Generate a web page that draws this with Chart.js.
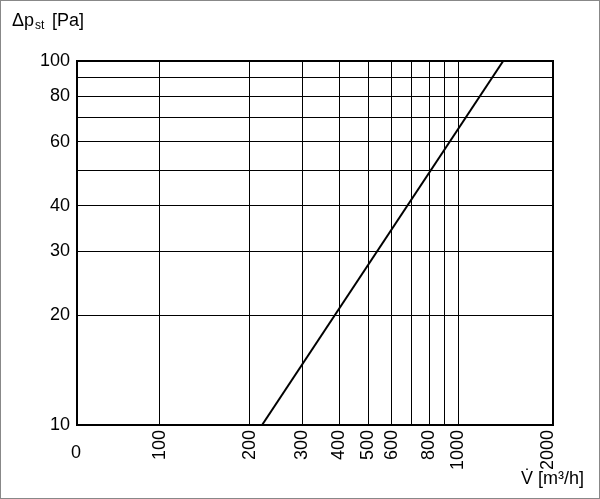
<!DOCTYPE html><html><head><meta charset="utf-8">
<script src="https://cdn.jsdelivr.net/npm/chart.js@4"></script>
<style>html,body{margin:0;padding:0;background:#fff}#w{width:600px;height:499px}</style></head><body>
<div id="w"><canvas id="c"></canvas></div>
<script>
const xTicks=[100,200,300,400,500,600,700,800,900,1000,2000];
const xLabeled=[100,200,300,400,500,600,800,1000,2000];
const yTicks=[10,20,30,40,50,60,70,80,90,100];
const yLabeled=[10,20,30,40,60,80,100];
const flowV=[220,1416];
const pressure=[10,100];
const X_MIN=52.7,X_MAX=2080;
const F='"Liberation Sans Narrow","Liberation Sans",sans-serif';
Chart.defaults.font.family=F;Chart.defaults.color='#000';
new Chart(document.getElementById('c'),{type:'line',
data:{datasets:[{data:flowV.map((v,i)=>({x:v,y:pressure[i]})),borderColor:'#000',borderWidth:2,pointRadius:0,fill:false}]},
options:{responsive:true,maintainAspectRatio:false,animation:false,
plugins:{legend:{display:false},tooltip:{enabled:false}},
layout:{padding:{left:0,top:61,right:47,bottom:0}},
scales:{
x:{type:'logarithmic',min:X_MIN,max:X_MAX,
afterBuildTicks:s=>{s.ticks=xTicks.map(v=>({value:v}));},
afterFit:s=>{s.height=74;},
ticks:{autoSkip:false,minRotation:90,maxRotation:90,font:{size:18},padding:5,
callback:v=>xLabeled.includes(v)?String(v):''},
grid:{color:ctx=>ctx.tick&&ctx.tick.value===2000?'rgba(0,0,0,0)':'#000',lineWidth:1,drawTicks:false},
border:{color:'#000',width:2}},
y:{type:'logarithmic',min:10,max:100,
afterBuildTicks:s=>{s.ticks=yTicks.map(v=>({value:v}));},
afterFit:s=>{s.width=77;},
ticks:{autoSkip:false,font:{size:18},padding:7,callback:v=>yLabeled.includes(v)?String(v):''},
grid:{color:'#000',lineWidth:1,drawTicks:false},
border:{color:'#000',width:2}}}},
plugins:[{id:'extra',afterDraw(ch){const c=ch.ctx,a=ch.chartArea;c.save();
c.strokeStyle='#000';c.lineWidth=2;c.strokeRect(a.left,a.top,a.right-a.left,a.bottom-a.top);
c.fillStyle='#000';c.font='18px '+F;c.textBaseline='alphabetic';
c.textAlign='left';c.fillText('0',a.left-6,458);
c.fillText('Δp',12,26);c.font='12px '+F;c.fillText('st',35,29);c.font='18px '+F;c.fillText('[Pa]',52,26);
c.textAlign='right';c.fillText('V̇ [m³/h]',584,484);
c.strokeStyle='#888';c.lineWidth=1;c.strokeRect(0.5,0.5,599,498);c.restore();}}]});
</script></body></html>
